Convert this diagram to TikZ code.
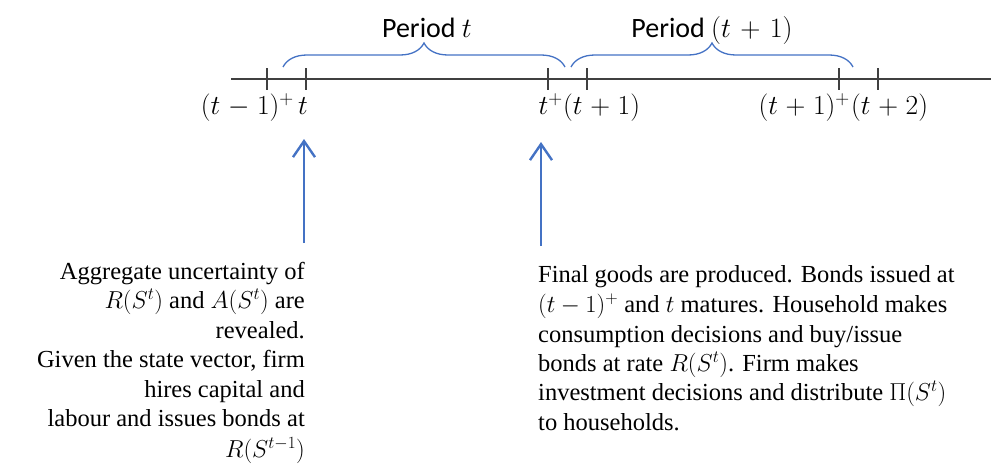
\documentclass[tikz,border=0pt]{standalone}
\usepackage{fix-cm}
\usepackage{fontspec}
\setmainfont{Liberation Serif}
\newfontfamily\tnr{Liberation Serif}
\newfontfamily\calib{Carlito}
\usetikzlibrary{arrows.meta,decorations.pathreplacing}
\definecolor{obl}{HTML}{4472C4}
\definecolor{axg}{HTML}{404040}
\newcommand\myaxfont{\fontsize{27.5}{32}\selectfont\medmuskip=5mu\relax}
\newcommand\mydescfont{\tnr\fontsize{24.5}{29.4}\selectfont}
\newcommand\myperfont{\calib\fontsize{28}{32}\selectfont\medmuskip=6mu\relax}
\begin{document}
\begin{tikzpicture}[x=1pt,y=-1pt,
  axisline/.style={draw=axg, line width=1.8pt},
  tickmark/.style={draw=axg, line width=1.2pt},
  brc/.style={draw=obl, line width=1.3pt, decorate, decoration={brace, amplitude=24pt}},
  upar/.style={draw=obl, line width=2.4pt, -{Straight Barb[length=16pt,width=22pt]}},
  axlab/.style={inner sep=0pt, font=\myaxfont},
  per/.style={inner sep=0pt, anchor=base, font=\myperfont},
  desc/.style={inner sep=0pt, font=\mydescfont}]
\useasboundingbox (0,0) rectangle (991,466);
% axis
\coordinate (axL) at (231,79);
\coordinate (axR) at (991,79);
\draw[axisline] (axL) -- (axR);
% ticks
\foreach \n/\x in {k1/267,k2/306,k3/548,k4/587,k5/839,k6/878}{
  \coordinate (\n t) at (\x,68);
  \coordinate (\n b) at (\x,90);
  \draw[tickmark] (\n t) -- (\n b);
}
% axis labels
\node[axlab, anchor=base east] (l1a) at (294,114) {$(t-1)^{+}$};
\node[axlab, anchor=base west] (l1b) at (298,114) {$t$};
\node[axlab, anchor=base east] (l2a) at (563,114) {$t^{+}$};
\node[axlab, anchor=base west] (l2b) at (563,114) {$(t+1)$};
\node[axlab, anchor=base east] (l3a) at (850,114) {$(t+1)^{+}$};
\node[axlab, anchor=base west] (l3b) at (851,114) {$(t+2)$};
% braces
\coordinate (b1s) at (283,67);
\coordinate (b1e) at (565,67);
\coordinate (b2s) at (571,67);
\coordinate (b2e) at (853,67);
\draw[brc] (b1s) -- (b1e);
\draw[brc] (b2s) -- (b2e);
\node[per] (p1) at (427,37) {Period $t$};
\node[per] (p2) at (712,37) {Period $(t+1)$};
% arrows
\coordinate (a1s) at (304,243);
\coordinate (a1e) at (304,139);
\coordinate (a2s) at (541,246);
\coordinate (a2e) at (541,142);
\draw[upar] (a1s) -- (a1e);
\draw[upar] (a2s) -- (a2e);
% descriptions
\node[desc, anchor=north east, align=right] (d1) at (305,262) {Aggregate uncertainty of\\ $R(S^t)$ and $A(S^t)$ are\\ revealed.\\ Given the state vector, firm\\ hires capital and\\ labour and issues bonds at\\[2pt] $R(S^{t-1})$};
\node[desc, anchor=north west, align=left] (d2) at (538,265) {Final goods are produced. Bonds issued at\\[1pt] $(t-1)^{+}$ and $t$ matures. Household makes\\ consumption decisions and buy/issue\\ bonds at rate $R(S^t)$. Firm makes\\ investment decisions and distribute $\Pi(S^t)$\\ to households.};
\end{tikzpicture}
\end{document}
